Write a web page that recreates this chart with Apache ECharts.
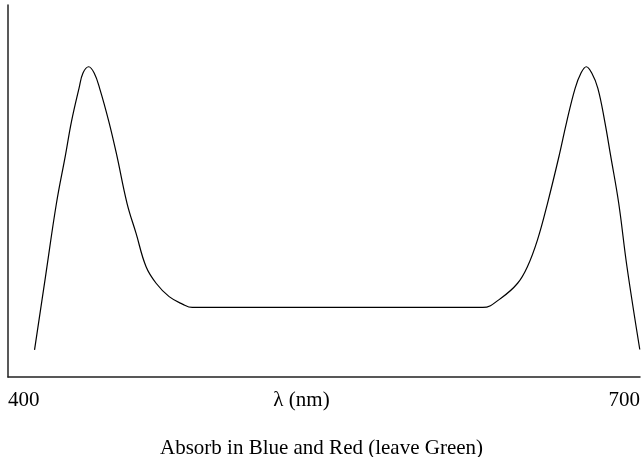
<!DOCTYPE html>
<html>
<head>
<meta charset="utf-8">
<script src="https://cdn.jsdelivr.net/npm/echarts@6/dist/echarts.min.js"></script>
<style>html,body{margin:0;padding:0;background:#fff;}#c{width:643px;height:457px;}</style>
</head>
<body>
<div id="c"></div>
<script>
const wavelengths = [412.6,417.8,423.0,427.3,430.1,433.7,435.6,438.3,440.9,443.5,447.9,451.6,456.5,460.8,465.5,470.3,476.5,482.8,487.5,625.4,634.0,641.9,646.6,651.3,656.1,661.7,665.2,669.2,672.0,674.5,677.1,680.0,683.3,686.0,689.9,693.8,699.9];
const absorbance = [0.073,0.270,0.467,0.597,0.686,0.776,0.817,0.834,0.817,0.776,0.686,0.597,0.467,0.386,0.297,0.252,0.216,0.196,0.187,0.187,0.212,0.252,0.297,0.368,0.467,0.597,0.686,0.776,0.817,0.834,0.817,0.776,0.686,0.597,0.467,0.297,0.074];
const xTicks = [400, 700];
const xName = 'λ (nm)';
const titleText = 'Absorb in Blue and Red (leave Green)';

const font = '"Liberation Serif", "Times New Roman", serif';
const chart = echarts.init(document.getElementById('c'), null, {renderer: 'canvas'});
chart.setOption({
  animation: false,
  backgroundColor: '#fff',
  title: {
    text: titleText, left: 'center', top: 433,
    textStyle: {fontFamily: font, fontSize: 21, fontWeight: 'normal', color: '#000', lineHeight: 21}
  },
  grid: {left: 8, right: 0, top: 5, bottom: 80, containLabel: false},
  xAxis: {
    type: 'value', min: xTicks[0], max: xTicks[1], interval: xTicks[1] - xTicks[0],
    name: xName, nameLocation: 'middle', nameGap: 13, nameMoveOverlap: false,
    nameTextStyle: {fontFamily: font, fontSize: 21, color: '#000', verticalAlign: 'top', lineHeight: 21, padding: [0, 45, 0, 0]},
    axisLine: {show: true, lineStyle: {color: '#222', width: 1.5}},
    axisTick: {show: false},
    splitLine: {show: false},
    axisLabel: {
      fontFamily: font, fontSize: 21, color: '#000', margin: 13, lineHeight: 21,
      alignMinLabel: 'left', alignMaxLabel: 'right'
    }
  },
  yAxis: {
    type: 'value', min: 0, max: 1,
    axisLine: {show: true, lineStyle: {color: '#222', width: 1.5}},
    axisTick: {show: false},
    axisLabel: {show: false},
    splitLine: {show: false}
  },
  series: [{
    type: 'line',
    data: wavelengths.map((w, i) => [w, absorbance[i]]),
    showSymbol: false,
    smooth: 0.4,
    clip: false,
    lineStyle: {color: '#000', width: 1.2}
  }]
});
</script>
</body>
</html>
